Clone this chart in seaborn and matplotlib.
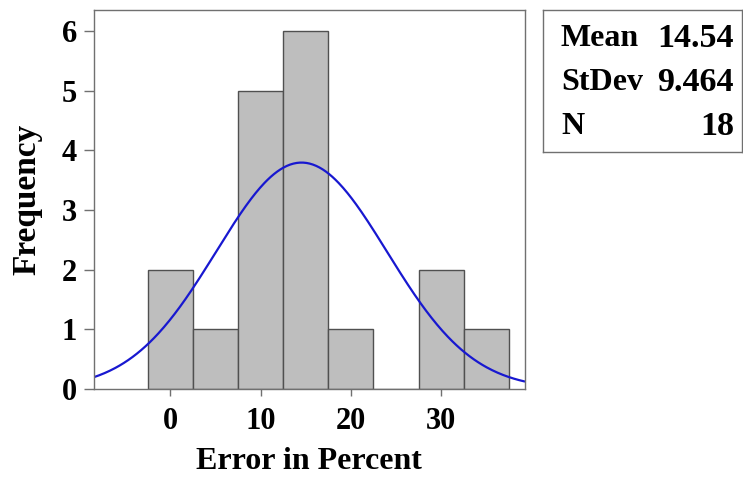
import numpy as np
import pandas as pd
import seaborn as sns
import matplotlib.pyplot as plt

# Histogram of percent error, bins of width 5 centred on multiples of 5
bin_centers = [0, 5, 10, 15, 20, 25, 30, 35]
counts = [2, 1, 5, 6, 1, 0, 2, 1]
bin_width = 5

# Summary statistics shown in the side panel
stat_names = ["Mean", "StDev", "N"]
stat_values = ["14.54", "9.464", "18"]
mean, stdev, n = 14.54, 9.464, 18

sns.set_theme(style="white")
plt.rcParams["font.family"] = ["Liberation Serif", "DejaVu Serif"]
plt.rcParams["font.weight"] = "bold"
plt.rcParams["text.color"] = "black"
plt.rcParams["axes.labelcolor"] = "black"
plt.rcParams["xtick.color"] = "black"
plt.rcParams["ytick.color"] = "black"

fig = plt.figure(figsize=(7.43, 4.79), dpi=100)
ax = fig.add_axes([0.126, 0.188, 0.580, 0.791])

df = pd.DataFrame({"x": bin_centers, "w": counts})
sns.histplot(data=df, x="x", weights="w", binwidth=bin_width,
             binrange=(bin_centers[0] - bin_width / 2, bin_centers[-1] + bin_width / 2),
             ax=ax, color="#BEBEBE", edgecolor="#505050", linewidth=1.0, alpha=1.0)

# Fitted normal curve scaled to counts
xs = np.linspace(-8.5, 39.25, 400)
ys = n * bin_width * np.exp(-0.5 * ((xs - mean) / stdev) ** 2) / (stdev * np.sqrt(2 * np.pi))
sns.lineplot(x=xs, y=ys, ax=ax, color="#1818D0", linewidth=1.6)

ax.set_xlim(-8.5, 39.25)
ax.set_ylim(0, 6.35)
ax.set_xticks([0, 10, 20, 30])
ax.set_yticks(range(0, 7))
ax.tick_params(axis="x", which="major", direction="out", length=5, width=1,
               color="#707070", labelcolor="black", labelsize=22, pad=8, bottom=True)
ax.tick_params(axis="y", which="major", direction="out", length=7, width=1,
               color="#707070", labelcolor="black", labelsize=22, pad=5, left=True)
for lab in ax.get_xticklabels() + ax.get_yticklabels():
    lab.set_fontweight("bold")
ax.set_xlabel("Error in Percent", fontsize=23, fontweight="bold", labelpad=8, color="black")
ax.set_ylabel("Frequency", fontsize=24, fontweight="bold", labelpad=14, color="black")
for sp in ax.spines.values():
    sp.set_color("#707070")
    sp.set_linewidth(1.0)

# Side panel with summary statistics
bx = fig.add_axes([543 / 743, 1 - 152 / 479, 199 / 743, 142 / 479])
bx.set_xticks([])
bx.set_yticks([])
bx.set_xlim(0, 1)
bx.set_ylim(0, 1)
for sp in bx.spines.values():
    sp.set_color("#707070")
    sp.set_linewidth(1.0)
rows_y = [0.80, 0.49, 0.18]
for name, val, y in zip(stat_names, stat_values, rows_y):
    bx.text(0.09, y, name, fontsize=23, fontweight="bold", va="center", ha="left", color="black")
    bx.text(0.96, y, val, fontsize=24.5, fontweight="bold", va="center", ha="right", color="black")

fig.savefig("out.png", dpi=100)
